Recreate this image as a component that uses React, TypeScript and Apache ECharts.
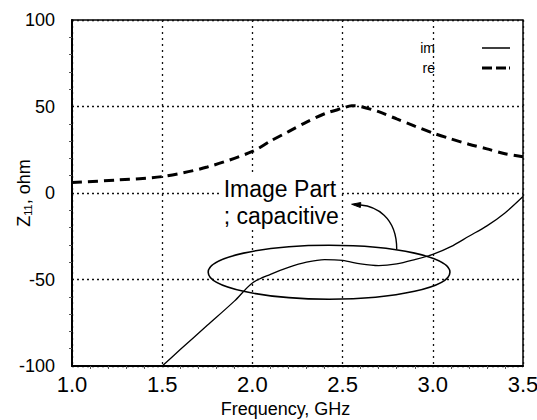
import React, { useEffect, useRef } from "react";
import * as echarts from "echarts";

// ---- data ----
const freqIm = [1.5, 1.6, 1.75, 1.9, 2.0, 2.1, 2.2, 2.3, 2.4, 2.5, 2.6, 2.7, 2.8, 2.9, 3.0, 3.1, 3.2, 3.3, 3.4, 3.5];
const imValues = [-100, -90.5, -76.5, -62.5, -52, -47, -43, -40, -38.5, -39, -41, -42, -41, -38.5, -35.5, -31, -25, -19, -11.5, -2];

const freqRe = [1.0, 1.25, 1.5, 1.75, 2.0, 2.1, 2.2, 2.3, 2.4, 2.5, 2.55, 2.6, 2.7, 2.8, 2.9, 3.0, 3.1, 3.2, 3.3, 3.4, 3.5];
const reValues = [6, 7.5, 9.5, 15, 24, 30, 35.5, 41, 45.8, 49, 50.5, 50, 47, 42.8, 38.7, 34.7, 31.3, 28.2, 25.5, 22.7, 21];

const xTicks = [1.0, 1.5, 2.0, 2.5, 3.0, 3.5];
const yTicks = [-100, -50, 0, 50, 100];

const seriesNames = ["im", "re"];
const xAxisName = "Frequency, GHz";
const annotationText = "Image Part\n; capacitive";

// annotation geometry in data units
const ellipseCenter = [2.425, -45.8];
const ellipseRadii = [0.67, 15.6];
const arrowStart = [2.8, -32.5];
const arrowCp1 = [2.8, -13.5];
const arrowCp2 = [2.68, -7.7];
const arrowEnd = [2.55, -6.5];
const textAnchor = [1.83, 10.2];

const FONT = '"Liberation Sans", Arial, Helvetica, sans-serif';

// legend icons: a 42px transparent lead-in then the 28px line sample
const ICON_SOLID = "path://M0,0L0.01,0Z M42,0H70V1.4H42Z";
const ICON_DASHED = "path://M0,0L0.01,0Z M42,0H52V3H42Z M56,0H66V3H56Z M69,0H70V3H69Z";

export default function App() {
  const ref = useRef<HTMLDivElement>(null);

  useEffect(() => {
    if (!ref.current) return;
    const chart = echarts.init(ref.current, undefined, { renderer: "svg" });

    const imData = freqIm.map((f, i) => [f, imValues[i]]);
    const reData = freqRe.map((f, i) => [f, reValues[i]]);

    const option: any = {
      animation: false,
      backgroundColor: "#fff",
      textStyle: { fontFamily: FONT, color: "#000" },
      grid: {
        left: 72,
        right: 14,
        top: 20,
        bottom: 54,
        containLabel: false,
        outerBoundsMode: "none",
        show: true,
        borderColor: "#000",
        borderWidth: 1.5,
        backgroundColor: "transparent",
      },
      legend: {
        data: [
          { name: seriesNames[0], icon: ICON_SOLID },
          { name: seriesNames[1], icon: ICON_DASHED },
        ],
        orient: "vertical",
        right: 22,
        top: 36,
        padding: 5,
        align: "right",
        itemWidth: 70,
        itemHeight: 14,
        itemGap: 6,
        symbolKeepAspect: true,
        itemStyle: { color: "#000" },
        textStyle: { fontSize: 14, color: "#000", fontFamily: FONT },
      },
      xAxis: {
        type: "value",
        min: xTicks[0],
        max: xTicks[xTicks.length - 1],
        interval: 0.5,
        name: xAxisName,
        nameLocation: "middle",
        nameGap: 34,
        nameMoveOverlap: false,
        nameTextStyle: { fontSize: 18, color: "#000", fontFamily: FONT, padding: [0, 24, 0, 0] },
        axisLine: { show: true, onZero: false, lineStyle: { color: "#000", width: 2 } },
        axisTick: { show: false },
        minorTick: { show: true, splitNumber: 5, length: 3, lineStyle: { color: "#555", width: 1 } },
        axisLabel: {
          fontSize: 22,
          color: "#000",
          margin: 7,
          fontFamily: FONT,
          formatter: (v: number) => v.toFixed(1),
        },
        splitLine: { show: true, lineStyle: { color: "#111", width: 1.3, type: [2, 4] } },
      },
      yAxis: {
        type: "value",
        min: yTicks[0],
        max: yTicks[yTicks.length - 1],
        interval: 50,
        name: "Z{sub|11}, ohm",
        nameLocation: "middle",
        nameGap: 39,
        nameRotate: 90,
        nameMoveOverlap: false,
        nameTextStyle: {
          fontSize: 18,
          color: "#000",
          fontFamily: FONT,
          rich: {
            sub: { fontSize: 11, verticalAlign: "bottom", padding: [8, 0, 0, 0], fontFamily: FONT, color: "#000" },
          },
        },
        axisLine: { show: true, onZero: false, lineStyle: { color: "#000", width: 2 } },
        axisTick: { show: false },
        minorTick: { show: true, splitNumber: 5, length: 3, lineStyle: { color: "#555", width: 1 } },
        axisLabel: { fontSize: 18, color: "#000", margin: 17, fontFamily: FONT },
        splitLine: { show: true, lineStyle: { color: "#111", width: 1.3, type: [2, 3] } },
      },
      series: [
        {
          name: seriesNames[0],
          type: "line",
          data: imData,
          symbol: "none",
          smooth: 0.3,
          lineStyle: { color: "#000", width: 1.3, type: "solid" },
          itemStyle: { color: "#000" },
          z: 3,
        },
        {
          name: seriesNames[1],
          type: "line",
          data: reData,
          symbol: "none",
          smooth: 0.3,
          lineStyle: { color: "#000", width: 3, type: [10, 6] },
          itemStyle: { color: "#000" },
          z: 3,
        },
        {
          name: "annotation",
          type: "custom",
          silent: true,
          clip: false,
          z: 4,
          data: [[2, 0]],
          encode: { x: 0, y: 1 },
          renderItem: (_params: any, api: any) => {
            const c = api.coord(ellipseCenter);
            const s = api.size(ellipseRadii);
            const p0 = api.coord(arrowStart);
            const p1 = api.coord(arrowCp1);
            const p2 = api.coord(arrowCp2);
            const p3 = api.coord(arrowEnd);
            const dx = p3[0] - p2[0];
            const dy = p3[1] - p2[1];
            const len = Math.sqrt(dx * dx + dy * dy) || 1;
            const ux = dx / len;
            const uy = dy / len;
            const bx = p3[0] - ux * 9;
            const by = p3[1] - uy * 9;
            const px = -uy * 2.5;
            const py = ux * 2.5;
            const t = api.coord(textAnchor);
            return {
              type: "group",
              children: [
                {
                  type: "ellipse",
                  shape: { cx: c[0], cy: c[1], rx: s[0], ry: s[1] },
                  style: { fill: "none", stroke: "#000", lineWidth: 1.6 },
                },
                {
                  type: "bezierCurve",
                  shape: {
                    x1: p0[0], y1: p0[1],
                    cpx1: p1[0], cpy1: p1[1],
                    cpx2: p2[0], cpy2: p2[1],
                    x2: bx, y2: by,
                  },
                  style: { fill: "none", stroke: "#000", lineWidth: 1.4 },
                },
                {
                  type: "polygon",
                  shape: { points: [[p3[0], p3[1]], [bx + px, by + py], [bx - px, by - py]] },
                  style: { fill: "#000", stroke: "#000", lineWidth: 1 },
                },
                {
                  type: "text",
                  x: t[0],
                  y: t[1],
                  style: {
                    text: annotationText,
                    fill: "#000",
                    fontSize: 23,
                    fontFamily: FONT,
                    lineHeight: 27,
                    align: "left",
                    verticalAlign: "top",
                    backgroundColor: "#fff",
                    padding: [0, 2, 0, 2],
                  },
                },
              ],
            };
          },
        },
      ],
    };

    chart.setOption(option);
    return () => chart.dispose();
  }, []);

  return (
    <div
      ref={ref}
      style={{ position: "fixed", left: 0, top: 0, width: 537, height: 420, background: "#fff" }}
    />
  );
}
